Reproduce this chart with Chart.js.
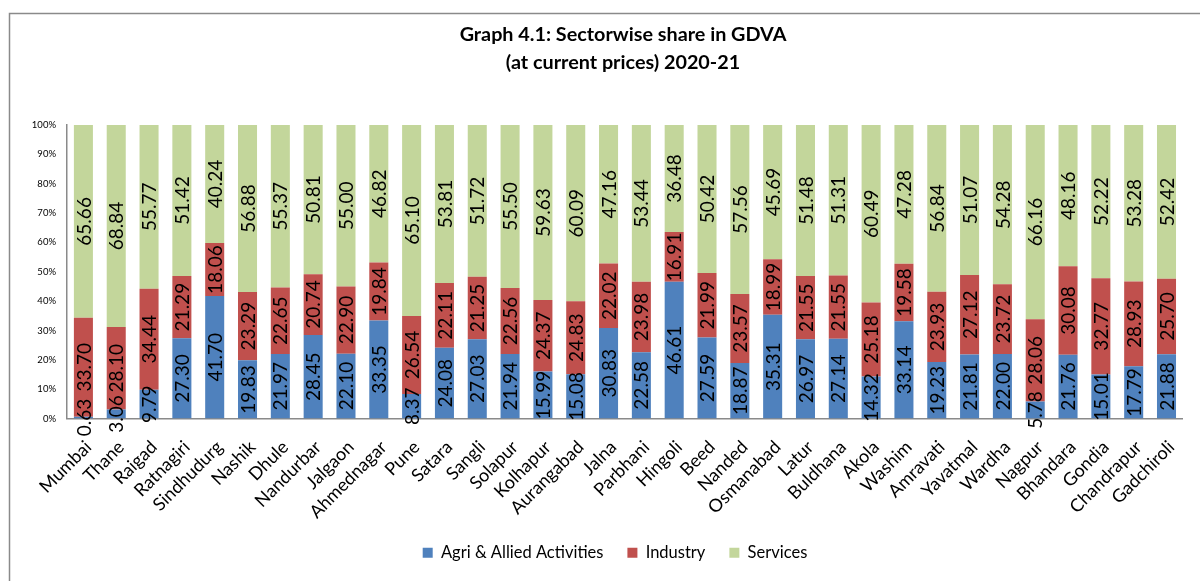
<!DOCTYPE html>
<html>
<head>
<meta charset="utf-8">
<title>Sectorwise share in GDVA 2020-21</title>
<script src="https://cdn.jsdelivr.net/npm/chart.js@4.4.1/dist/chart.umd.min.js"></script>
<style>
  html, body { margin: 0; padding: 0; background: #fff; }
  #wrap { width: 1200px; height: 581px; position: relative; }
</style>
</head>
<body>
<div id="wrap"><canvas id="gdva"></canvas></div>
<script>
const districts = ['Mumbai', 'Thane', 'Raigad', 'Ratnagiri', 'Sindhudurg', 'Nashik', 'Dhule', 'Nandurbar',
  'Jalgaon', 'Ahmednagar', 'Pune', 'Satara', 'Sangli', 'Solapur', 'Kolhapur', 'Aurangabad', 'Jalna',
  'Parbhani', 'Hingoli', 'Beed', 'Nanded', 'Osmanabad', 'Latur', 'Buldhana', 'Akola', 'Washim',
  'Amravati', 'Yavatmal', 'Wardha', 'Nagpur', 'Bhandara', 'Gondia', 'Chandrapur', 'Gadchiroli'];

const agri = [0.63, 3.06, 9.79, 27.30, 41.70, 19.83, 21.97, 28.45, 22.10, 33.35, 8.37, 24.08, 27.03,
  21.94, 15.99, 15.08, 30.83, 22.58, 46.61, 27.59, 18.87, 35.31, 26.97, 27.14, 14.32, 33.14, 19.23,
  21.81, 22.00, 5.78, 21.76, 15.01, 17.79, 21.88];

const industry = [33.70, 28.10, 34.44, 21.29, 18.06, 23.29, 22.65, 20.74, 22.90, 19.84, 26.54, 22.11,
  21.25, 22.56, 24.37, 24.83, 22.02, 23.98, 16.91, 21.99, 23.57, 18.99, 21.55, 21.55, 25.18, 19.58,
  23.93, 27.12, 23.72, 28.06, 30.08, 32.77, 28.93, 25.70];

const services = [65.66, 68.84, 55.77, 51.42, 40.24, 56.88, 55.37, 50.81, 55.00, 46.82, 65.10, 53.81,
  51.72, 55.50, 59.63, 60.09, 47.16, 53.44, 36.48, 50.42, 57.56, 45.69, 51.48, 51.31, 60.49, 47.28,
  56.84, 51.07, 54.28, 66.16, 48.16, 52.22, 53.28, 52.42];

const yTickLabels = ['0%', '10%', '20%', '30%', '40%', '50%', '60%', '70%', '80%', '90%', '100%'];

Chart.defaults.font.family = 'Lato, "Open Sans", sans-serif';
Chart.defaults.color = '#000';

// grey frame of the original chart box (cropped on right and bottom)
const frame = {
  id: 'frame',
  beforeDraw(chart) {
    const ctx = chart.ctx;
    ctx.save();
    ctx.strokeStyle = '#8a8a8a';
    ctx.lineWidth = 1.5;
    ctx.beginPath();
    ctx.moveTo(9.5, chart.height);
    ctx.lineTo(9.5, 13.5);
    ctx.lineTo(chart.width, 13.5);
    ctx.stroke();
    ctx.restore();
  }
};

// title and legend sit a little right of the canvas centre;
// x labels may run down past the axis box, so let them
const nudge = {
  id: 'nudge',
  afterLayout(chart) {
    const move = (box, cx) => {
      const d = cx - (box.left + box.right) / 2;
      box.left += d;
      box.right += d;
    };
    move(chart.titleBlock, 623);
    move(chart.legend, 615);
    chart.scales.x.bottom = chart.height;
  }
};

// vertical value labels in the middle of each segment
const valueLabels = {
  id: 'valueLabels',
  afterDatasetsDraw(chart) {
    const ctx = chart.ctx;
    ctx.save();
    ctx.font = '19px Lato';
    ctx.fillStyle = '#000';
    ctx.textAlign = 'center';
    ctx.textBaseline = 'middle';
    chart.data.datasets.forEach((ds, di) => {
      chart.getDatasetMeta(di).data.forEach((bar, i) => {
        ctx.save();
        ctx.translate(bar.x, (bar.y + bar.base) / 2);
        ctx.rotate(-Math.PI / 2);
        ctx.fillText(ds.data[i].toFixed(2), 0, 1);
        ctx.restore();
      });
    });
    ctx.restore();
  }
};

new Chart(document.getElementById('gdva'), {
  type: 'bar',
  data: {
    labels: districts,
    datasets: [
      { label: 'Agri & Allied Activities', data: agri, backgroundColor: '#4F81BD' },
      { label: 'Industry', data: industry, backgroundColor: '#C0504D' },
      { label: 'Services', data: services, backgroundColor: '#C3D69B' }
    ]
  },
  options: {
    responsive: true,
    maintainAspectRatio: false,
    animation: false,
    datasets: {
      bar: { barPercentage: 0.58, categoryPercentage: 1.0, borderWidth: 0 }
    },
    layout: { padding: { left: 0, right: 15, top: 0, bottom: 10 } },
    scales: {
      x: {
        stacked: true,
        grid: { display: false, drawTicks: false },
        border: { color: '#8a8a8a', width: 1.5 },
        ticks: {
          autoSkip: false,
          minRotation: 45,
          maxRotation: 45,
          padding: 18,
          labelOffset: 5,
          font: { size: 18 },
          color: '#000'
        },
        afterFit: s => { s.height = 102; }
      },
      y: {
        stacked: true,
        min: 0,
        max: 100,
        grid: { display: false, drawTicks: false },
        border: { color: '#8a8a8a', width: 1.5 },
        ticks: {
          stepSize: 10,
          padding: 11,
          font: { size: 9.5 },
          color: '#000',
          callback: (v, i) => yTickLabels[i]
        },
        afterFit: s => { s.width = 67; }
      }
    },
    plugins: {
      title: {
        display: true,
        text: ['Graph 4.1: Sectorwise share in GDVA', '(at current prices) 2020-21'],
        font: { size: 19.8, weight: 'bold', lineHeight: '27.5px' },
        color: '#000',
        padding: { top: 21, bottom: 49 }
      },
      legend: {
        position: 'bottom',
        labels: {
          boxWidth: 10,
          boxHeight: 10,
          padding: 24,
          font: { size: 16.5 },
          color: '#000'
        }
      },
      tooltip: { enabled: false }
    }
  },
  plugins: [frame, nudge, valueLabels]
});
</script>
</body>
</html>
